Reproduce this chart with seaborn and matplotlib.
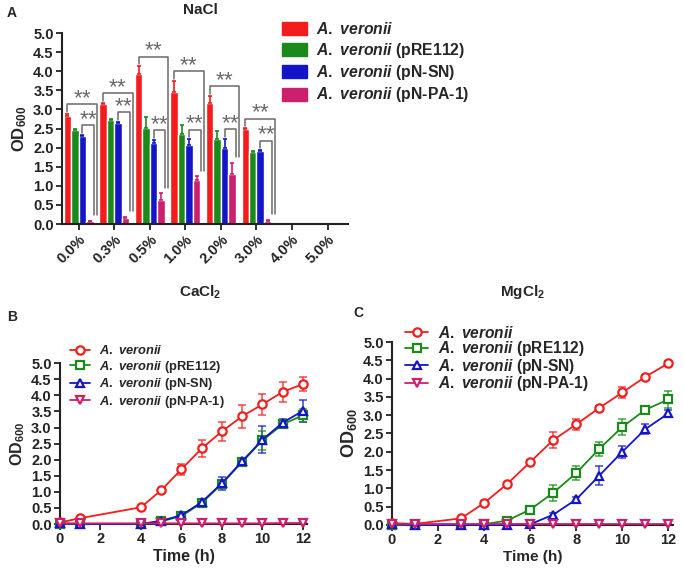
import numpy as np
import pandas as pd
import matplotlib
matplotlib.use('Agg')
import matplotlib.pyplot as plt
import seaborn as sns
from matplotlib.patches import Patch

sns.set_style('ticks')
plt.rcParams['font.family'] = ['Liberation Sans', 'DejaVu Sans']
plt.rcParams['font.weight'] = 'bold'
plt.rcParams['mathtext.fontset'] = 'custom'
plt.rcParams['mathtext.rm'] = 'Liberation Sans:bold'
plt.rcParams['mathtext.it'] = 'Liberation Sans:italic:bold'
plt.rcParams['mathtext.bf'] = 'Liberation Sans:bold'

# strains / legend text
strains = ['A. veronii', 'A. veronii (pRE112)', 'A. veronii (pN-SN)', 'A. veronii (pN-PA-1)']
labels = [r'$\mathit{A.\ veronii}$',
          r'$\mathit{A.\ veronii}$ (pRE112)',
          r'$\mathit{A.\ veronii}$ (pN-SN)',
          r'$\mathit{A.\ veronii}$ (pN-PA-1)']
colors = ['#f41c1c', '#1a8a1a', '#1414c8', '#cc1f6e']
markers = ['o', 's', '^', 'v']

# panel A : NaCl
nacl_conc = ['0.0%', '0.3%', '0.5%', '1.0%', '2.0%', '3.0%', '4.0%', '5.0%']
nacl_wt = [2.82, 3.15, 3.93, 3.45, 3.18, 2.48, 0.04, 0.04]
nacl_wt_err = [0.07, 0.03, 0.20, 0.30, 0.18, 0.03, 0, 0]
nacl_pre = [2.45, 2.72, 2.52, 2.35, 2.22, 1.88, 0.03, 0.03]
nacl_pre_err = [0.03, 0.02, 0.28, 0.25, 0.22, 0.03, 0, 0]
nacl_sn = [2.30, 2.65, 2.13, 2.07, 1.98, 1.90, 0.03, 0.04]
nacl_sn_err = [0.03, 0.03, 0.08, 0.15, 0.25, 0.03, 0, 0]
nacl_pa = [0.07, 0.15, 0.62, 1.15, 1.30, 0.08, 0.03, 0.03]
nacl_pa_err = [0.02, 0.04, 0.18, 0.10, 0.30, 0.02, 0, 0]
nacl_sig = [True, True, True, True, True, True, False, False]

# panel B : CaCl2
time_b = [0, 1, 4, 5, 6, 7, 8, 9, 10, 11, 12]
ca_wt = [0.05, 0.18, 0.52, 1.05, 1.70, 2.35, 2.88, 3.35, 3.72, 4.11, 4.35]
ca_wt_err = [0.02, 0.03, 0.03, 0.05, 0.18, 0.27, 0.30, 0.35, 0.33, 0.30, 0.22]
ca_pre = [0.0, 0.0, 0.0, 0.08, 0.25, 0.65, 1.25, 1.93, 2.60, 3.10, 3.38]
ca_pre_err = [0, 0, 0, 0.02, 0.05, 0.06, 0.10, 0.06, 0.30, 0.10, 0.20]
ca_sn = [0.02, 0.0, 0.0, 0.10, 0.27, 0.68, 1.27, 1.95, 2.62, 3.15, 3.52]
ca_sn_err = [0, 0, 0, 0.02, 0.05, 0.06, 0.20, 0.06, 0.42, 0.12, 0.35]
ca_pa = [0.02, 0.02, 0.02, 0.02, 0.02, 0.02, 0.02, 0.02, 0.02, 0.03, 0.03]
ca_pa_err = [0, 0, 0, 0, 0, 0, 0, 0, 0, 0.02, 0.02]

# panel C : MgCl2
time_c = [0, 1, 3, 4, 5, 6, 7, 8, 9, 10, 11, 12]
mg_wt = [0.05, 0.03, 0.18, 0.60, 1.12, 1.72, 2.32, 2.75, 3.20, 3.62, 4.05, 4.42]
mg_wt_err = [0.02, 0.02, 0.03, 0.05, 0.05, 0.06, 0.22, 0.15, 0.06, 0.15, 0.06, 0.06]
mg_pre = [0.0, 0.0, 0.0, 0.02, 0.12, 0.42, 0.88, 1.42, 2.08, 2.68, 3.15, 3.43]
mg_pre_err = [0, 0, 0, 0, 0.03, 0.05, 0.22, 0.20, 0.20, 0.22, 0.08, 0.22]
mg_sn = [0.02, 0.0, 0.0, 0.0, 0.0, 0.02, 0.28, 0.70, 1.35, 2.00, 2.62, 3.05]
mg_sn_err = [0, 0, 0, 0, 0, 0.02, 0.05, 0.06, 0.25, 0.17, 0.13, 0.10]
mg_pa = [0.02] * 12
mg_pa_err = [0] * 12

fig = plt.figure(figsize=(6.84, 5.7), dpi=100)


def style_axis(ax, fs):
    sns.despine(ax=ax)
    for s in ['left', 'bottom']:
        ax.spines[s].set_linewidth(1.5)
        ax.spines[s].set_color('#222222')
    ax.tick_params(direction='out', length=4, width=1.3, labelsize=fs, pad=2, colors='#222222')
    ax.set_ylim(0, 5)
    ax.set_yticks(np.arange(0, 5.01, 0.5))
    ax.set_yticklabels(['%.1f' % v for v in np.arange(0, 5.01, 0.5)])


# ---- A ----
axA = fig.add_axes([0.0906, 0.607, 0.418, 0.335])
dfA = pd.DataFrame({
    'conc': nacl_conc * 4,
    'od': nacl_wt + nacl_pre + nacl_sn + nacl_pa,
    'strain': np.repeat(strains, len(nacl_conc)),
})
sns.barplot(data=dfA, x='conc', y='od', hue='strain', hue_order=strains, palette=colors,
            width=0.84, gap=0, errorbar=None, saturation=1, legend=False, ax=axA)
style_axis(axA, 10.5)
axA.set_xlim(-0.47, 7.57)
axA.set_xlabel('')
axA.set_ylabel(r'OD$_{600}$', fontsize=12, fontweight='bold', labelpad=3)
plt.setp(axA.get_xticklabels(), rotation=45, ha='right', rotation_mode='anchor')

vals = [nacl_wt, nacl_pre, nacl_sn, nacl_pa]
errs = [nacl_wt_err, nacl_pre_err, nacl_sn_err, nacl_pa_err]
centers = []
for cont, v, e, c in zip(axA.containers, vals, errs, colors):
    xs = [b.get_x() + b.get_width() / 2 for b in cont]
    centers.append(xs)
    e = np.array(e)
    m = e > 0
    axA.errorbar(np.array(xs)[m], np.array(v)[m], yerr=[np.zeros(m.sum()), e[m]],
                 fmt='none', ecolor=c, elinewidth=1.2, capsize=1.5, capthick=1.2)

gray = '#6a6a6a'
stars = r'$\mathregular{{*}{*}}$'
for i, sig in enumerate(nacl_sig):
    if not sig:
        continue
    xr, xs_, xp = centers[0][i], centers[2][i], centers[3][i]
    top_r = nacl_wt[i] + nacl_wt_err[i]
    top_s = nacl_sn[i] + nacl_sn_err[i]
    top_p = nacl_pa[i] + nacl_pa_err[i]
    y_out = top_r + 0.25
    y_in = top_s + 0.25
    axA.plot([xr, xr, xp + 0.2, xp + 0.2], [top_r + 0.05, y_out, y_out, top_p + 0.15],
             color=gray, lw=1.1, clip_on=False)
    axA.plot([xs_, xs_, xp + 0.12, xp + 0.12], [top_s + 0.05, y_in, y_in, top_p + 0.15],
             color=gray, lw=1.1, clip_on=False)
    axA.text((xr + xp + 0.2) / 2, y_out - 0.1, stars, ha='center', va='bottom',
             fontsize=16, color=gray, fontweight='normal')
    axA.text((xs_ + xp + 0.12) / 2, y_in - 0.1, stars, ha='center', va='bottom',
             fontsize=16, color=gray, fontweight='normal')

fig.legend(handles=[Patch(facecolor=c, edgecolor=c) for c in colors], labels=labels,
           loc='upper left', bbox_to_anchor=(0.412, 0.963), frameon=False, fontsize=11.3,
           handlelength=1.6, handleheight=0.9, handletextpad=0.6, labelspacing=0.22,
           borderpad=0, borderaxespad=0)


def line_panel(ax, t, series, errs_, fs_tick, fs_lab, fs_y, leg_kw):
    order = [0, 2, 1, 3]
    for k in order:
        c = colors[k]
        sns.lineplot(x=t, y=series[k], color=c, marker=markers[k], markersize=6,
                     markerfacecolor='white', markeredgecolor=c, markeredgewidth=1.6,
                     lw=1.3, ax=ax, clip_on=False, label=labels[k], zorder=3 + k)
        ax.errorbar(t, series[k], yerr=errs_[k], fmt='none', ecolor=c, elinewidth=1.1,
                    capsize=3, capthick=1.1, alpha=0.8, clip_on=False, zorder=2)
    style_axis(ax, fs_tick)
    ax.set_xlim(0, 12.2)
    ax.set_xticks(range(0, 13, 2))
    ax.set_xlabel('Time (h)', fontsize=fs_lab, fontweight='bold', labelpad=2)
    ax.set_ylabel(r'OD$_{600}$', fontsize=fs_y, fontweight='bold', labelpad=3)
    h, l = ax.get_legend_handles_labels()
    hd = dict(zip(l, h))
    ax.legend([hd[x] for x in labels], labels, loc='upper left', frameon=False,
              borderpad=0, borderaxespad=0, bbox_transform=fig.transFigure, **leg_kw)


# ---- B ----
axB = fig.add_axes([0.0877, 0.0807, 0.361, 0.282])
line_panel(axB, time_b, [ca_wt, ca_pre, ca_sn, ca_pa], [ca_wt_err, ca_pre_err, ca_sn_err, ca_pa_err],
           10.5, 11.5, 11.5, dict(bbox_to_anchor=(0.103, 0.396), fontsize=9.3, handlelength=1.5,
                                  handletextpad=0.7, labelspacing=0.12))

# ---- C ----
axC = fig.add_axes([0.573, 0.079, 0.411, 0.321])
line_panel(axC, time_c, [mg_wt, mg_pre, mg_sn, mg_pa], [mg_wt_err, mg_pre_err, mg_sn_err, mg_pa_err],
           10.5, 11, 13, dict(bbox_to_anchor=(0.592, 0.430), fontsize=11.2, handlelength=1.5,
                              handletextpad=0.6, labelspacing=-0.1))

# titles and panel letters
fig.text(200 / 684, 1 - 10 / 570, 'NaCl', ha='center', va='center', fontsize=11, fontweight='bold')
fig.text(200 / 684, 1 - 292 / 570, r'CaCl$_2$', ha='center', va='center', fontsize=11, fontweight='bold')
fig.text(522 / 684, 1 - 292 / 570, r'MgCl$_2$', ha='center', va='center', fontsize=11, fontweight='bold')
fig.text(12 / 684, 1 - 13 / 570, 'A', ha='center', va='center', fontsize=10, fontweight='bold')
fig.text(12 / 684, 1 - 317 / 570, 'B', ha='center', va='center', fontsize=10, fontweight='bold')
fig.text(358 / 684, 1 - 313 / 570, 'C', ha='center', va='center', fontsize=10, fontweight='bold')

fig.savefig('out.png', dpi=100, facecolor='white')
